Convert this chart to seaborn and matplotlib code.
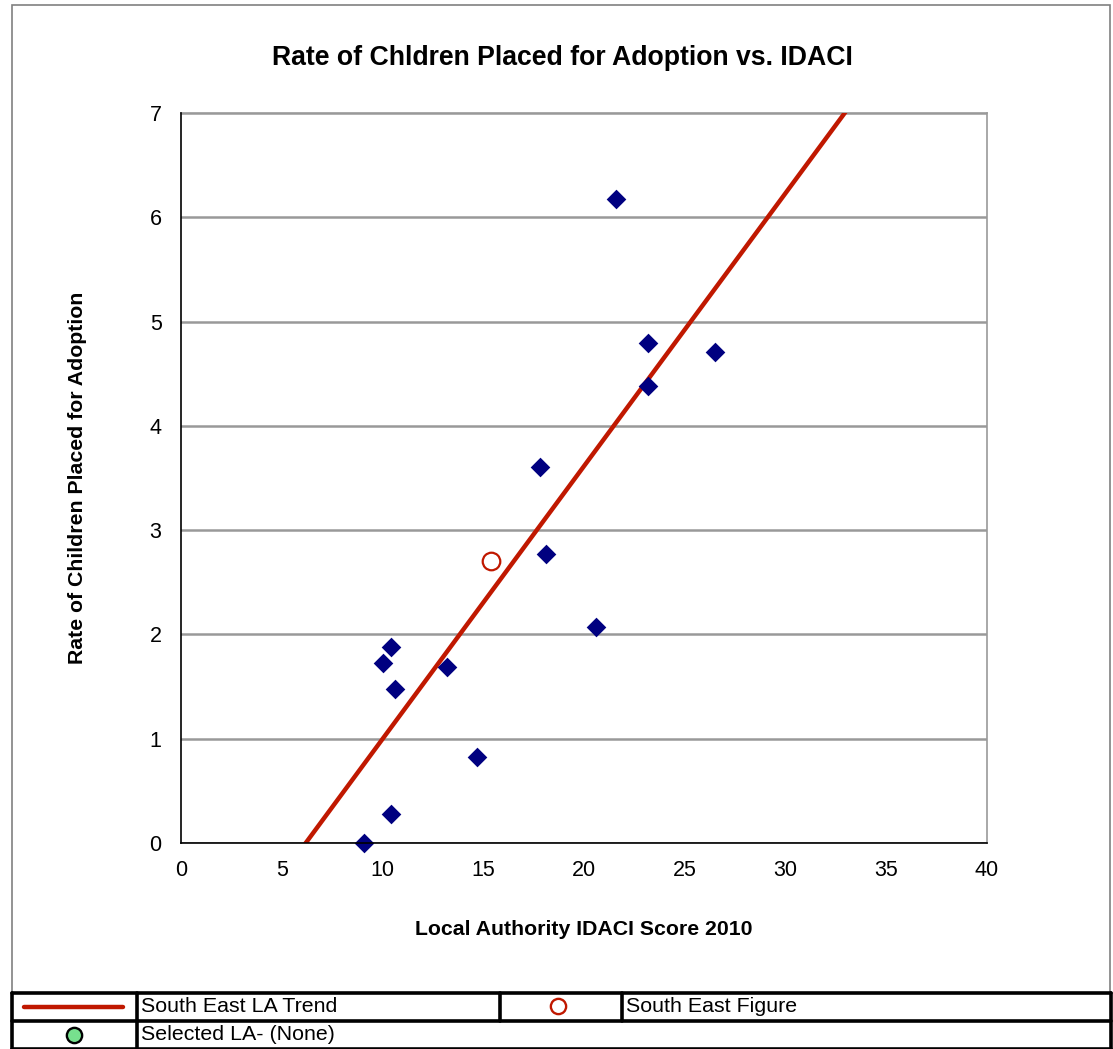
import numpy as np
import pandas as pd
import matplotlib.pyplot as plt
from matplotlib.patches import Rectangle
import seaborn as sns

# Local authority points (IDACI score, adoption rate)
la_idaci = [9.1, 10.4, 10.0, 10.4, 10.6, 13.2, 14.7, 17.8, 18.1, 20.6, 21.6, 23.2, 23.2, 26.5]
la_rate = [0.0, 0.28, 1.73, 1.88, 1.48, 1.69, 0.82, 3.61, 2.77, 2.07, 6.18, 4.79, 4.38, 4.71]

# South East figure
se_idaci = [15.4]
se_rate = [2.70]

# trend line fitted in the original
trend_slope = 0.2617
trend_intercept = -1.62

x_ticks = [0, 5, 10, 15, 20, 25, 30, 35, 40]
y_ticks = [0, 1, 2, 3, 4, 5, 6, 7]

legend_labels = ['South East LA Trend', 'South East Figure', 'Selected LA- (None)']

sns.set_style('white')
plt.rcParams['font.family'] = ['Liberation Sans', 'DejaVu Sans']
plt.rcParams['text.color'] = 'black'
plt.rcParams['axes.labelcolor'] = 'black'
plt.rcParams['xtick.labelcolor'] = 'black'
plt.rcParams['ytick.labelcolor'] = 'black'

W, H = 1113, 1049
fig = plt.figure(figsize=(W / 100, H / 100), dpi=100)

# overlay in pixel coords for the chart frame and legend table
bg = fig.add_axes([0, 0, 1, 1], zorder=0)
bg.set_xlim(0, W)
bg.set_ylim(H, 0)
bg.axis('off')
bg.add_patch(Rectangle((12, 5), 1098, 988, fill=False, edgecolor='#808080', lw=1.2))

ax = fig.add_axes([181 / W, 206 / H, 806 / W, 730 / H], zorder=2)
ax.patch.set_alpha(0)

df = pd.DataFrame({'idaci': la_idaci, 'rate': la_rate})
se = pd.DataFrame({'idaci': se_idaci, 'rate': se_rate})
trend = pd.DataFrame({'idaci': [0, 40]})
trend['rate'] = trend_slope * trend['idaci'] + trend_intercept

sns.lineplot(data=trend, x='idaci', y='rate', color='#C01800', lw=3.2, ax=ax, zorder=3)
sns.scatterplot(data=df, x='idaci', y='rate', marker='D', s=100, color='#000080',
                edgecolor='#000080', linewidth=0, ax=ax, zorder=4, clip_on=False)
sns.scatterplot(data=se, x='idaci', y='rate', marker='o', s=160, facecolor='white',
                edgecolor='#C01800', linewidth=1.6, ax=ax, zorder=4)

ax.set_xlim(0, 40)
ax.set_ylim(0, 7)
ax.set_xticks(x_ticks)
ax.set_yticks(y_ticks)
ax.tick_params(axis='both', labelsize=15.5, length=6, width=1, color='#808080',
               direction='out', pad=8)
ax.tick_params(axis='x', pad=6)
ax.yaxis.grid(True, color='#999999', lw=1.8, zorder=1)
ax.set_axisbelow(True)
for s in ['left', 'bottom']:
    ax.spines[s].set_color('black')
    ax.spines[s].set_linewidth(1.2)
    ax.spines[s].set_zorder(5)
for s in ['top', 'right']:
    ax.spines[s].set_color('#999999')
    ax.spines[s].set_linewidth(1.2)

ax.set_xlabel('Local Authority IDACI Score 2010', fontsize=15.3, fontweight='bold', labelpad=28)
ax.set_ylabel('Rate of Children Placed for Adoption', fontsize=15.3, fontweight='bold', labelpad=45)
fig.text(562 / W, 1 - 58 / H, 'Rate of Chldren Placed for Adoption vs. IDACI',
         ha='center', va='center', fontsize=19.2, fontweight='bold')

# legend table
lw_t = 2.6
bg.plot([12, 1111], [993, 993], color='black', lw=lw_t)
bg.plot([12, 1111], [1021, 1021], color='black', lw=lw_t)
bg.plot([12, 1111], [1049, 1049], color='black', lw=lw_t)
bg.plot([12, 12], [993, 1049], color='black', lw=lw_t)
bg.plot([1111, 1111], [993, 1049], color='black', lw=lw_t)
bg.plot([137, 137], [993, 1049], color='black', lw=lw_t)
bg.plot([500, 500], [993, 1021], color='black', lw=lw_t)
bg.plot([622, 622], [993, 1021], color='black', lw=lw_t)

bg.plot([24, 123], [1007, 1007], color='#C01800', lw=3.2)
bg.plot([558], [1006], marker='o', ms=11, mfc='white', mec='#C01800', mew=1.7)
bg.plot([74], [1035], marker='o', ms=11, mfc='#77E08E', mec='black', mew=1.7)
bg.text(141, 1007, legend_labels[0], fontsize=15.4, va='center', ha='left')
bg.text(626, 1007, legend_labels[1], fontsize=15.4, va='center', ha='left')
bg.text(141, 1035, legend_labels[2], fontsize=15.4, va='center', ha='left')

fig.savefig('out.png', dpi=100, facecolor='white')
